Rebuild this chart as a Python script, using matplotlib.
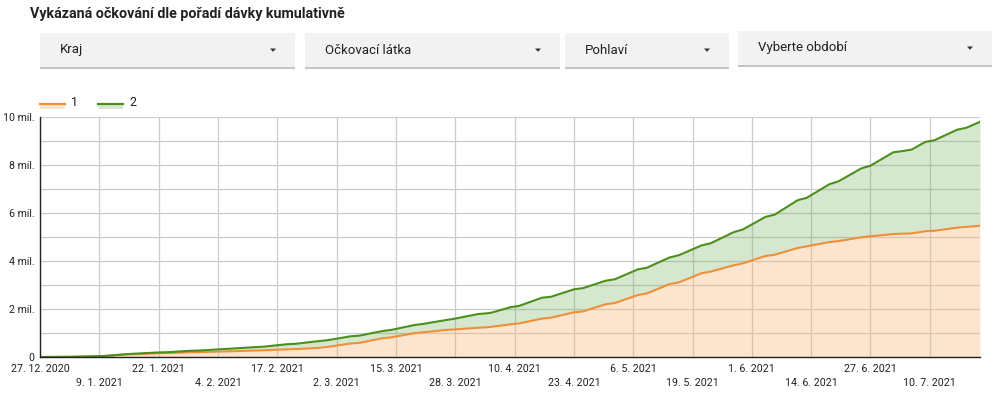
import matplotlib
matplotlib.use('Agg')
import matplotlib.pyplot as plt
from matplotlib.patches import Rectangle, Polygon
from matplotlib.ticker import FuncFormatter
import pandas as pd

plt.rcParams['font.family'] = ['Roboto', 'DejaVu Sans']

# Data (millions of doses, cumulative)
dates = ['2020-12-27', '2021-01-01', '2021-01-03', '2021-01-08', '2021-01-10', '2021-01-15',
         '2021-01-17', '2021-01-22', '2021-01-24', '2021-01-29', '2021-01-31', '2021-02-05',
         '2021-02-07', '2021-02-12', '2021-02-14', '2021-02-19', '2021-02-21', '2021-02-26',
         '2021-02-28', '2021-03-05', '2021-03-07', '2021-03-12', '2021-03-14', '2021-03-19',
         '2021-03-21', '2021-03-26', '2021-03-28', '2021-04-02', '2021-04-04', '2021-04-05',
         '2021-04-09', '2021-04-11', '2021-04-16', '2021-04-18', '2021-04-23', '2021-04-25',
         '2021-04-30', '2021-05-02', '2021-05-07', '2021-05-09', '2021-05-14', '2021-05-16',
         '2021-05-21', '2021-05-23', '2021-05-28', '2021-05-30', '2021-06-04', '2021-06-06',
         '2021-06-11', '2021-06-13', '2021-06-18', '2021-06-20', '2021-06-25', '2021-06-27',
         '2021-07-02', '2021-07-04', '2021-07-06', '2021-07-09', '2021-07-11', '2021-07-16',
         '2021-07-18', '2021-07-21']

dose1 = [0, 0.005, 0.008, 0.03, 0.04, 0.11, 0.12, 0.16, 0.165, 0.20, 0.205, 0.23, 0.24, 0.27,
         0.28, 0.32, 0.33, 0.38, 0.42, 0.56, 0.59, 0.78, 0.82, 0.99, 1.03, 1.13, 1.15, 1.22,
         1.24, 1.26, 1.36, 1.40, 1.60, 1.64, 1.86, 1.90, 2.20, 2.25, 2.58, 2.65, 3.04, 3.11,
         3.49, 3.56, 3.82, 3.90, 4.21, 4.26, 4.54, 4.61, 4.79, 4.83, 4.99, 5.03, 5.12, 5.14,
         5.15, 5.24, 5.26, 5.39, 5.42, 5.47]

dose2 = [0, 0, 0, 0, 0, 0.01, 0.02, 0.03, 0.035, 0.06, 0.065, 0.10, 0.11, 0.14, 0.15, 0.21,
         0.22, 0.28, 0.28, 0.30, 0.30, 0.30, 0.31, 0.34, 0.35, 0.41, 0.45, 0.57, 0.58, 0.59,
         0.71, 0.73, 0.87, 0.87, 0.96, 0.97, 0.98, 0.99, 1.07, 1.07, 1.11, 1.13, 1.16, 1.18,
         1.38, 1.41, 1.63, 1.67, 1.99, 2.02, 2.41, 2.49, 2.87, 2.94, 3.41, 3.44, 3.49, 3.72,
         3.77, 4.08, 4.13, 4.33]

series_names = ['1', '2']
filters = ['Kraj', 'Očkovací látka', 'Pohlaví', 'Vyberte období']
title = 'Vykázaná očkování dle pořadí dávky kumulativně'

# colours
c_line1 = '#ef8f3a'
c_fill1 = '#f6b26b'
c_line2 = '#4b8f1c'
c_fill2 = '#6aa84f'

x = pd.to_datetime(dates)
total = [a + b for a, b in zip(dose1, dose2)]

fig = plt.figure(figsize=(10, 4), dpi=100)
W, H = 1000.0, 400.0


def fx(px):
    return px / W


def fy(py):
    return 1 - py / H


# title
fig.text(fx(30), fy(14), title, fontsize=10.3, fontweight='bold', va='center', ha='left',
         color='#202124')

# filter controls (decorative)
boxes = [(40, 295, 33, 67), (305, 560, 33, 67), (565, 729, 33, 67), (738, 992, 31, 65)]
for (x0, x1, y0, y1), label in zip(boxes, filters):
    fig.patches.append(Rectangle((fx(x0), fy(y1 + 1.5)), fx(x1 - x0), (y1 - y0) / H,
                                 transform=fig.transFigure, facecolor='#c4c4c4',
                                 edgecolor='none', zorder=1))
    fig.patches.append(Rectangle((fx(x0), fy(y1)), fx(x1 - x0), (y1 - y0) / H,
                                 transform=fig.transFigure, facecolor='#f2f2f2',
                                 edgecolor='none', zorder=2))
    fig.text(fx(x0 + 20), fy((y0 + y1) / 2), label, fontsize=9.5, va='center', ha='left',
             color='#202124', zorder=3)
    ax_ = x1 - 22
    ay = (y0 + y1) / 2
    fig.patches.append(Polygon([(fx(ax_ - 3), fy(ay - 1.5)), (fx(ax_ + 3), fy(ay - 1.5)),
                                (fx(ax_), fy(ay + 1.8))], closed=True,
                               transform=fig.transFigure, facecolor='#333333',
                               edgecolor='none', zorder=3))

# legend
for lx, name, lc, fc, al in [(40, series_names[0], c_line1, c_fill1, 0.33),
                             (98, series_names[1], c_line2, c_fill2, 0.27)]:
    fig.patches.append(Rectangle((fx(lx), fy(109)), fx(25), 6 / H, transform=fig.transFigure,
                                 facecolor=fc, alpha=al, edgecolor='none'))
    fig.lines.append(plt.Line2D([fx(lx), fx(lx + 25)], [fy(103.5), fy(103.5)],
                                transform=fig.transFigure, color=lc, lw=1.6))
    fig.text(fx(lx + 31), fy(103), name, fontsize=9, va='center', ha='left', color='#202124')

# chart
ax = fig.add_axes([fx(40), fy(357), fx(940), 240 / H])
ax.fill_between(x, 0, dose1, color=c_fill1, alpha=0.33, linewidth=0)
ax.fill_between(x, dose1, total, color=c_fill2, alpha=0.27, linewidth=0)
ax.plot(x, dose1, color=c_line1, lw=1.5)
ax.plot(x, total, color=c_line2, lw=1.5)

ax.set_xlim(x[0], x[-1])
ax.set_ylim(0, 10)

ticks = pd.date_range('2020-12-27', periods=16, freq='13D')
labels = [f'{d.day}. {d.month}. {d.year}' for d in ticks]
ax.set_xticks(ticks[::2])
ax.set_xticklabels(labels[::2])
ax.set_xticks(ticks[1::2], minor=True)
ax.set_xticklabels(labels[1::2], minor=True)

ax.set_yticks([0, 2, 4, 6, 8, 10])
ax.set_yticks([1, 3, 5, 7, 9], minor=True)
ax.yaxis.set_major_formatter(FuncFormatter(lambda v, p: '0' if v == 0 else f'{int(v)} mil.'))

ax.tick_params(axis='both', which='both', length=0, labelsize=7.7, colors='#202124')
ax.tick_params(axis='x', which='major', pad=5)
ax.tick_params(axis='x', which='minor', pad=15)
ax.tick_params(axis='y', which='major', pad=4)

ax.set_axisbelow(True)
ax.grid(True, which='both', color='#cccccc', lw=0.9)

for s in ['top', 'right']:
    ax.spines[s].set_visible(False)
ax.spines['left'].set_color('#222222')
ax.spines['bottom'].set_color('#222222')
ax.spines['left'].set_linewidth(1.0)
ax.spines['bottom'].set_linewidth(1.0)

fig.savefig('out.png', dpi=100)
